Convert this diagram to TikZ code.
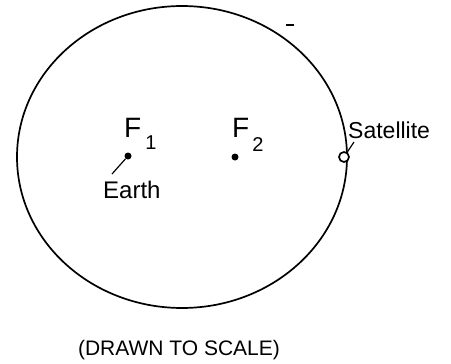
\documentclass[tikz,border=0pt]{standalone}
\usepackage{fontspec}
\setmainfont{Liberation Sans}
\tikzset{
  orbit/.style={line width=1.7pt},
  focusdot/.style={circle,fill=black,inner sep=0pt,minimum size=7pt},
  satdot/.style={circle,draw=black,line width=1.7pt,fill=white,inner sep=0pt,minimum size=10pt},
  lbl/.style={inner sep=0pt,anchor=base west},
  pointer/.style={line width=1.2pt}
}
\begin{document}
\begin{tikzpicture}[x=1pt,y=-1pt]
    \useasboundingbox(0,0)rectangle(451,364);
    % orbit
    \draw[orbit](182,157)ellipse[x radius=165,y radius=151];
    \draw[line width=1.4pt](286,25)--(294,25);
    % foci and satellite
    \node[focusdot](f1)at(128,156){};
    \node[focusdot](f2)at(235,157){};
    \node[satdot](sat)at(344,157){};
    % labels
    \node[lbl](f1lab)at(124,137){\fontsize{28}{28}\selectfont F\hspace{4pt}\raisebox{-13pt}{\fontsize{20}{20}\selectfont 1}};
    \node[lbl](f2lab)at(232,137){\fontsize{28}{28}\selectfont F\hspace{3pt}\raisebox{-14pt}{\fontsize{20}{20}\selectfont 2}};
    \node[lbl](earth)at(103,198){\fontsize{24}{24}\selectfont Earth};
    \node[lbl](satlab)at(348,138){\fontsize{23}{23}\selectfont Satellite};
    \node[inner sep=0pt,anchor=base](scale)at(179,355){\fontsize{21}{21}\selectfont (DRAWN TO SCALE)};
    % pointers
    \coordinate(earthtip)at(112,174);
    \coordinate(sattip)at(354,142);
    \draw[pointer](f1)--(earthtip);
    \draw[pointer](sat)--(sattip);
\end{tikzpicture}
\end{document}
